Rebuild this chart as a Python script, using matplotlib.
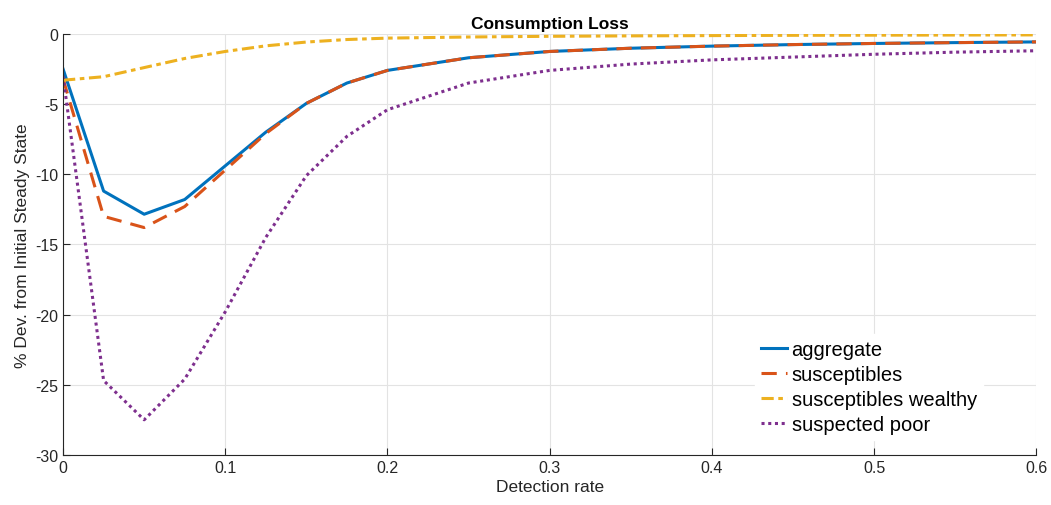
import numpy as np
import matplotlib
matplotlib.use("Agg")
import matplotlib.pyplot as plt

plt.rcParams.update({"font.family": ["Liberation Sans", "DejaVu Sans"], "font.size": 12,
                     "axes.unicode_minus": False})

detection = [0, 0.025, 0.05, 0.075, 0.1, 0.125, 0.15, 0.175, 0.2, 0.25, 0.3,
             0.35, 0.4, 0.45, 0.5, 0.55, 0.6]
aggregate = [-2.5, -11.2, -12.85, -11.8, -9.4, -7.0, -4.95, -3.5, -2.6, -1.7, -1.25,
             -1.02, -0.87, -0.76, -0.68, -0.62, -0.57]
suscept = [-3.2, -13.0, -13.8, -12.3, -9.7, -7.1, -4.95, -3.5, -2.6, -1.7, -1.25,
           -1.02, -0.87, -0.76, -0.68, -0.62, -0.57]
wealthy = [-3.3, -3.05, -2.4, -1.75, -1.25, -0.85, -0.58, -0.4, -0.3, -0.22, -0.17,
           -0.14, -0.12, -0.1, -0.09, -0.08, -0.07]
poor = [-3.0, -24.7, -27.5, -24.6, -19.8, -14.5, -10.1, -7.3, -5.4, -3.5, -2.6,
        -2.15, -1.85, -1.65, -1.45, -1.3, -1.2]

fig = plt.figure(figsize=(10.51, 5.06), dpi=100)
ax = fig.add_axes([0.060, 0.099, 0.926, 0.832])
ax.plot(detection, aggregate, color="#0072BD", lw=2.2, label="aggregate")
ax.plot(detection, suscept, color="#D95319", lw=2.2, ls=(0, (5, 3)), label="susceptibles")
ax.plot(detection, wealthy, color="#EDB120", lw=2.2, ls=(0, (4, 1.5, 1.5, 1.5)),
        label="susceptibles wealthy")
ax.plot(detection, poor, color="#7E2F8E", lw=2.2, ls=(0, (1, 1.2)), label="suspected poor")

ax.set_xlim(0, 0.6)
ax.set_ylim(-30, 0)
ax.set_xticks(np.arange(0, 0.61, 0.1))
ax.set_xticklabels(["0", "0.1", "0.2", "0.3", "0.4", "0.5", "0.6"])
ax.set_yticks(np.arange(-30, 1, 5))
ax.grid(True, color="#e3e3e3", lw=0.8)
ax.set_axisbelow(True)
for s in ["top", "right"]:
    ax.spines[s].set_visible(False)
for s in ["left", "bottom"]:
    ax.spines[s].set_color("#262626")
ax.tick_params(direction="in", length=5, colors="#262626", labelsize=11.5)
ax.set_xlabel("Detection rate", fontsize=12.5, color="#262626", labelpad=3)
ax.set_ylabel("% Dev. from Initial Steady State", fontsize=12.5, color="#262626")
ax.set_title("Consumption Loss", fontsize=12.5, fontweight="bold", pad=4)
leg = ax.legend(loc="upper left", bbox_to_anchor=(0.701, 0.312), fontsize=14.5,
                frameon=True, fancybox=False, edgecolor="white", framealpha=1,
                handlelength=1.25, handletextpad=0.25, labelspacing=0.3, borderpad=0.3)
fig.savefig("out.png")
